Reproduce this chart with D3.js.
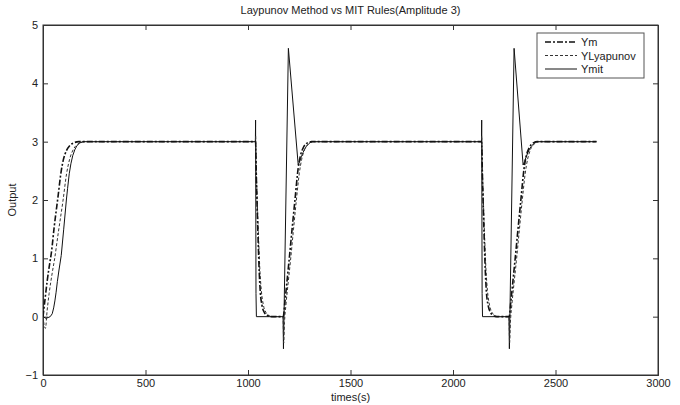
<!DOCTYPE html>
<html>
<head>
<meta charset="utf-8">
<script src="https://cdn.jsdelivr.net/npm/d3@7"></script>
<style>
  body { margin: 0; background: #fff; }
  text { font-family: "Liberation Sans", Arial, sans-serif; font-size: 11px; fill: #222; }
</style>
</head>
<body>
<div id="chart"></div>
<script>
// values: [time (s), output]
const ymData = [
    [0, 0], [10, 0.3], [20, 0.6], [30, 0.85], [41, 1.1], [55, 1.55], [73, 2.05], [89, 2.5],
    [100, 2.7], [115, 2.85], [130, 2.93], [150, 2.98], [175, 3.0],
    [1037, 3.0], [1040, 2.5], [1045, 1.85], [1050, 1.25], [1055, 0.75], [1060, 0.42],
    [1068, 0.2], [1080, 0.07], [1095, 0.02], [1108, 0],
    [1172, 0], [1180, 0.25], [1190, 0.6], [1200, 0.95], [1215, 1.5], [1229, 2.0], [1245, 2.55],
    [1255, 2.75], [1270, 2.9], [1290, 2.98], [1310, 3.0],
    [2140, 3.0], [2143, 2.5], [2148, 1.85], [2153, 1.25], [2158, 0.75], [2163, 0.42],
    [2171, 0.2], [2183, 0.07], [2198, 0.02], [2211, 0],
    [2274, 0], [2282, 0.25], [2292, 0.6], [2302, 0.95], [2317, 1.5], [2331, 2.0], [2347, 2.55],
    [2357, 2.75], [2372, 2.9], [2392, 2.98], [2412, 3.0], [2700, 3.0]
];

const lyapData = [
    [0, 0], [6, -0.15], [12, -0.2], [20, 0.1], [30, 0.4], [45, 0.75], [57, 1.0], [75, 1.45],
    [98, 2.0], [115, 2.45], [130, 2.7], [150, 2.88], [170, 2.96], [190, 3.0],
    [1036, 3.0], [1037, 3.1], [1040, 2.6], [1046, 1.9], [1052, 1.3], [1058, 0.8], [1065, 0.45],
    [1075, 0.2], [1088, 0.07], [1102, 0.02], [1115, 0],
    [1171, 0], [1174, -0.45], [1178, -0.1], [1185, 0.2], [1195, 0.55], [1207, 0.95], [1222, 1.5],
    [1236, 2.0], [1250, 2.45], [1262, 2.7], [1278, 2.88], [1298, 2.97], [1318, 3.0],
    [2139, 3.0], [2140, 3.1], [2143, 2.6], [2149, 1.9], [2155, 1.3], [2161, 0.8], [2168, 0.45],
    [2178, 0.2], [2191, 0.07], [2205, 0.02], [2218, 0],
    [2273, 0], [2276, -0.45], [2280, -0.1], [2287, 0.2], [2297, 0.55], [2309, 0.95], [2324, 1.5],
    [2338, 2.0], [2352, 2.45], [2364, 2.7], [2380, 2.88], [2400, 2.97], [2420, 3.0], [2700, 3.0]
];

// Ymit has sharp corners, so it is drawn with straight segments
const mitData = [
    [0, 0], [15, -0.03], [35, 0.0], [45, 0.05], [52, 0.15], [58, 0.27], [64, 0.42], [70, 0.6],
    [78, 0.8], [89, 1.05], [101, 1.5], [114, 2.0], [120, 2.2], [128, 2.45], [136, 2.62],
    [145, 2.76], [155, 2.86], [165, 2.93], [180, 2.98], [200, 3.0],
    [1036, 3.0], [1037, 3.37], [1039, 0.4], [1041, 0],
    [1171, 0], [1173, -0.55], [1197, 4.6], [1245, 2.6], [1252, 2.66], [1260, 2.74], [1268, 2.81],
    [1276, 2.87], [1285, 2.92], [1295, 2.96], [1305, 2.99], [1315, 3.0],
    [2139, 3.0], [2140, 3.37], [2142, 0.4], [2144, 0],
    [2273, 0], [2275, -0.55], [2298, 4.6], [2342, 2.6], [2349, 2.66], [2357, 2.74], [2365, 2.81],
    [2373, 2.87], [2382, 2.92], [2392, 2.96], [2402, 2.99], [2412, 3.0],
    [2700, 3.0]
];

const xTicks = [0, 500, 1000, 1500, 2000, 2500, 3000];
const yTicks = [-1, 0, 1, 2, 3, 4, 5];

const width = 680;
const height = 405;
const margin = { top: 25, right: 22, bottom: 30, left: 43 };

const svg = d3.select("#chart")
    .append("svg")
    .attr("width", width)
    .attr("height", height);

const xScale = d3.scaleLinear()
    .domain([0, 3000])
    .range([margin.left, width - margin.right]);

const yScale = d3.scaleLinear()
    .domain([-1, 5])
    .range([height - margin.bottom, margin.top]);

// Box round the plot
svg.append("rect")
    .attr("x", margin.left)
    .attr("y", margin.top)
    .attr("width", width - margin.left - margin.right)
    .attr("height", height - margin.top - margin.bottom)
    .attr("fill", "none")
    .attr("stroke", "#333")
    .attr("stroke-width", 1);

// Axes with inward ticks (matlab look), mirrored on top and right
const tickLen = 5;
const bottomAxis = svg.append("g")
    .attr("transform", `translate(0,${height - margin.bottom})`)
    .call(d3.axisBottom(xScale).tickValues(xTicks).tickSize(-tickLen).tickPadding(4).tickFormat(d3.format("d")));
const topAxis = svg.append("g")
    .attr("transform", `translate(0,${margin.top})`)
    .call(d3.axisTop(xScale).tickValues(xTicks).tickSize(-tickLen).tickFormat(""));
const leftAxis = svg.append("g")
    .attr("transform", `translate(${margin.left},0)`)
    .call(d3.axisLeft(yScale).tickValues(yTicks).tickSize(-tickLen).tickPadding(5).tickFormat(d3.format("d")));
const rightAxis = svg.append("g")
    .attr("transform", `translate(${width - margin.right},0)`)
    .call(d3.axisRight(yScale).tickValues(yTicks).tickSize(-tickLen).tickFormat(""));

[bottomAxis, topAxis, leftAxis, rightAxis].forEach(g => {
    g.select(".domain").attr("stroke", "#333");
    g.selectAll(".tick line").attr("stroke", "#333");
    g.selectAll(".tick text").style("font-size", "11px").attr("fill", "#222")
        .style("font-family", "'Liberation Sans', Arial, sans-serif");
});

// Clip lines to plot area
svg.append("clipPath").attr("id", "plot-clip")
    .append("rect")
    .attr("x", margin.left)
    .attr("y", margin.top)
    .attr("width", width - margin.left - margin.right)
    .attr("height", height - margin.top - margin.bottom);

const smooth = d3.line()
    .x(d => xScale(d[0]))
    .y(d => yScale(d[1]))
    .curve(d3.curveMonotoneX);

const straight = d3.line()
    .x(d => xScale(d[0]))
    .y(d => yScale(d[1]));

const series = [
    { name: "Ym", data: ymData, dash: "6,2,2,2", width: 1.6, color: "#111", line: smooth },
    { name: "YLyapunov", data: lyapData, dash: "3,2", width: 1, color: "#333", line: smooth },
    { name: "Ymit", data: mitData, dash: null, width: 1, color: "#111", line: straight }
];

const plot = svg.append("g").attr("clip-path", "url(#plot-clip)");
series.slice().reverse().forEach(s => {
    plot.append("path")
        .datum(s.data)
        .attr("d", s.line)
        .attr("fill", "none")
        .attr("stroke", s.color)
        .attr("stroke-width", s.width)
        .attr("stroke-dasharray", s.dash);
});

// Title and axis labels
svg.append("text")
    .attr("x", (margin.left + width - margin.right) / 2)
    .attr("y", 14)
    .attr("text-anchor", "middle")
    .text("Laypunov Method vs MIT Rules(Amplitude 3)");

svg.append("text")
    .attr("x", (margin.left + width - margin.right) / 2)
    .attr("y", 401)
    .attr("text-anchor", "middle")
    .text("times(s)");

svg.append("text")
    .attr("transform", "rotate(-90)")
    .attr("x", -(margin.top + height - margin.bottom) / 2)
    .attr("y", 16)
    .attr("text-anchor", "middle")
    .text("Output");

// Legend
const legend = svg.append("g").attr("transform", "translate(537,33)");
legend.append("rect")
    .attr("width", 107)
    .attr("height", 45)
    .attr("fill", "#fff")
    .attr("stroke", "#555");

series.forEach((s, i) => {
    const y = 9 + i * 13.5;
    legend.append("line")
        .attr("x1", 8).attr("x2", 40)
        .attr("y1", y).attr("y2", y)
        .attr("stroke", s.color)
        .attr("stroke-width", s.width)
        .attr("stroke-dasharray", s.dash);
    legend.append("text")
        .attr("x", 44)
        .attr("y", y + 4)
        .text(s.name);
});
</script>
</body>
</html>
